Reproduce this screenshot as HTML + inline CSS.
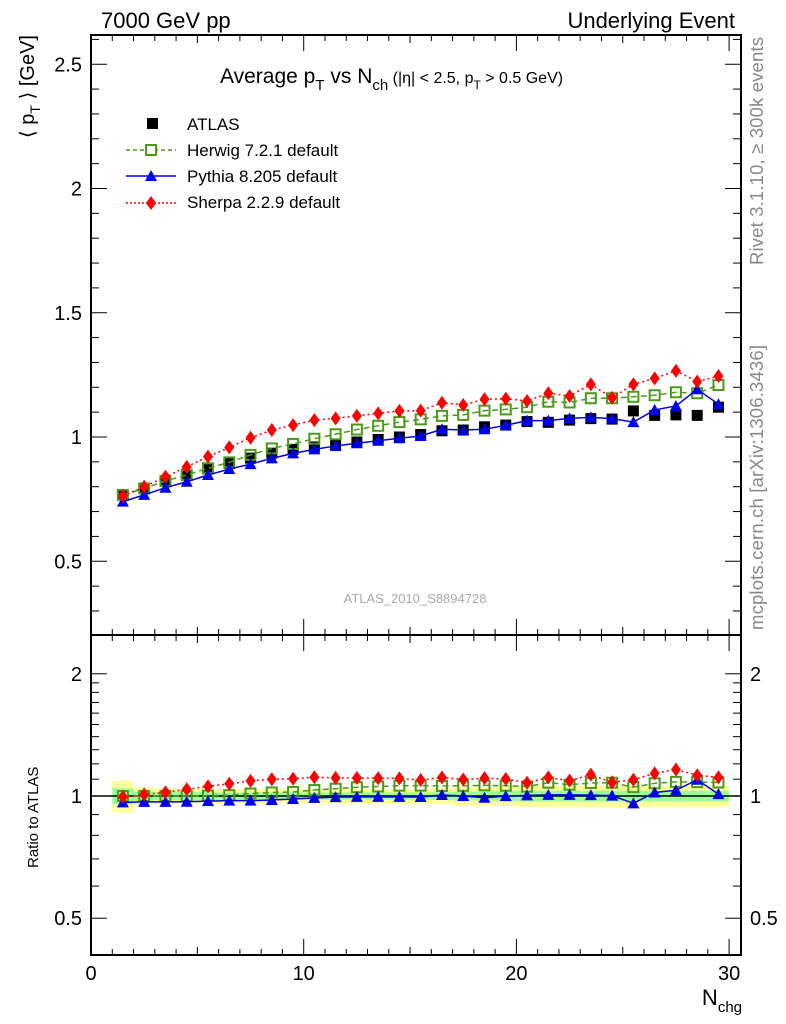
<!DOCTYPE html>
<html><head><meta charset="utf-8"><style>
body{margin:0;background:#fff}
svg{display:block;font-family:"Liberation Sans",sans-serif}
</style></head><body>
<svg id="c" width="786" height="1024" viewBox="0 0 786 1024"></svg>
<script>
const nch=[1.5,2.5,3.5,4.5,5.5,6.5,7.5,8.5,9.5,10.5,11.5,12.5,13.5,14.5,15.5,16.5,17.5,18.5,19.5,20.5,21.5,22.5,23.5,24.5,25.5,26.5,27.5,28.5,29.5];
const atlas=[0.767,0.793,0.823,0.847,0.872,0.894,0.915,0.935,0.950,0.960,0.970,0.980,0.990,1.000,1.010,1.025,1.028,1.041,1.048,1.062,1.059,1.068,1.074,1.072,1.105,1.087,1.089,1.087,1.12];
const herwig=[0.767,0.793,0.823,0.847,0.874,0.898,0.928,0.954,0.972,0.993,1.011,1.030,1.045,1.060,1.071,1.085,1.089,1.106,1.111,1.120,1.142,1.139,1.156,1.156,1.162,1.168,1.180,1.176,1.209];
const pythia=[0.740,0.767,0.796,0.820,0.847,0.871,0.891,0.914,0.934,0.950,0.964,0.975,0.985,0.995,1.004,1.031,1.028,1.031,1.047,1.066,1.066,1.075,1.079,1.074,1.060,1.109,1.125,1.192,1.132];
const sherpa=[0.763,0.800,0.840,0.880,0.921,0.958,0.997,1.028,1.048,1.068,1.075,1.085,1.095,1.105,1.106,1.138,1.129,1.152,1.154,1.145,1.176,1.165,1.212,1.158,1.212,1.236,1.266,1.223,1.245];
const errGreen=[0.045,0.025,0.022,0.022,0.022,0.02,0.02,0.02,0.02,0.02,0.02,0.02,0.02,0.02,0.02,0.022,0.025,0.025,0.028,0.03,0.03,0.03,0.03,0.03,0.03,0.03,0.03,0.03,0.03];
const errYellow=[0.09,0.05,0.045,0.04,0.04,0.04,0.04,0.04,0.04,0.04,0.04,0.04,0.04,0.04,0.04,0.045,0.05,0.05,0.055,0.06,0.06,0.06,0.06,0.06,0.06,0.06,0.06,0.06,0.06];
const mainYTicks=[0.5,1,1.5,2,2.5];
const ratioYTicks=[0.5,1,2];
const xTicks=[0,10,20,30];

const NS="http://www.w3.org/2000/svg";
const svg=document.getElementById('c');
function el(t,a,p){const e=document.createElementNS(NS,t);for(const k in a)e.setAttribute(k,a[k]);(p||svg).appendChild(e);return e;}
const L=91,R=741,MT=35,MB=635,RB=955;
const X=v=>L+(v)*21.27;
const Y=v=>437-(v-1)*248.5;
const YR=r=>796-Math.log10(r)*406;

const bands=el('g',{});


nch.forEach((n,i)=>{
  const x0=X(n-0.5),x1=X(n+0.5);
  const y=el('rect',{x:x0,y:YR(1+errYellow[i]),width:x1-x0,height:YR(1-errYellow[i])-YR(1+errYellow[i]),fill:'#ffff99'},bands);
  
  
  const g=el('rect',{x:x0,y:YR(1+errGreen[i]),width:x1-x0,height:YR(1-errGreen[i])-YR(1+errGreen[i]),fill:'#99ff99'},bands);
  
  
});
el('line',{x1:L,x2:R,y1:YR(1),y2:YR(1),stroke:'#000','stroke-width':1.5});

el('rect',{x:L,y:MT,width:R-L,height:MB-MT,fill:'none',stroke:'#000','stroke-width':2});
el('rect',{x:L,y:MB,width:R-L,height:RB-MB,fill:'none',stroke:'#000','stroke-width':2});

for(let v=0;v<=30;v++){
  const len=v%10===0?16:(v%5===0?8:6);
  [[MT,1],[MB,-1],[MB,1],[RB,-1]].forEach(([y,d])=>el('line',{x1:X(v),x2:X(v),y1:y,y2:y+d*len,stroke:'#000','stroke-width':1}));
}
xTicks.forEach(v=>{const t=el('text',{x:X(v),y:980,'font-size':20,'text-anchor':'middle'});t.textContent=v;

});
for(let k=3;k<=26;k++){const v=k/10;const maj=k%5===0;const y=Y(v);if(y<MT||y>MB)continue;
  el('line',{x1:L,x2:L+(maj?16:8),y1:y,y2:y,stroke:'#000'});el('line',{x1:R,x2:R-(maj?16:8),y1:y,y2:y,stroke:'#000'});}
mainYTicks.forEach(v=>{const t=el('text',{x:82,y:Y(v)+7,'font-size':20,'text-anchor':'end'});t.textContent=v;

});
[0.5,0.6,0.7,0.8,0.9,1,1.1,1.2,1.3,1.4,1.5,1.6,1.7,1.8,1.9,2].forEach(r=>{const maj=[0.5,1,2].includes(r);const y=YR(r);
  el('line',{x1:L,x2:L+(maj?16:8),y1:y,y2:y,stroke:'#000'});el('line',{x1:R,x2:R-(maj?16:8),y1:y,y2:y,stroke:'#000'});});
ratioYTicks.forEach(v=>{const t=el('text',{x:82,y:YR(v)+7,'font-size':20,'text-anchor':'end'});t.textContent=v;


const t2=el('text',{x:750,y:YR(v)+7,'font-size':20});t2.textContent=v;

});

function marker(kind,x,y,g){
  if(kind==='sq')return el('rect',{x:x-5.5,y:y-5.5,width:11,height:11,fill:'#000'},g);
  if(kind==='osq')return el('rect',{x:x-5,y:y-5,width:10,height:10,fill:'none',stroke:'#4a9a1a','stroke-width':2},g);
  if(kind==='tri')return el('polygon',{points:`${x},${y-6} ${x+6},${y+5} ${x-6},${y+5}`,fill:'#0000ee'},g);
  if(kind==='dia')return el('polygon',{points:`${x},${y-7} ${x+5},${y} ${x},${y+7} ${x-5},${y}`,fill:'#ff0000'},g);
}
const ga=el('g',{});


nch.forEach((n,i)=>{const m=marker('sq',X(n),Y(atlas[i]),ga);
  
  });
const series=[
 {name:'herwig',vals:herwig,c:'#4a9a1a',dash:'6,4',m:'osq'},
 {name:'pythia',vals:pythia,c:'#0000ee',dash:'',m:'tri'},
 {name:'sherpa',vals:sherpa,c:'#ff0000',dash:'2,3',m:'dia'}];
series.forEach(s=>{
  const g=el('g',{});
  
  
  const gr=el('g',{});
  
  
  const pts=nch.map((n,i)=>X(n)+','+Y(s.vals[i])).join(' ');
  el('polyline',{points:pts,fill:'none',stroke:s.c,'stroke-width':1.5,'stroke-dasharray':s.dash},g);
  const rp=nch.map((n,i)=>X(n)+','+YR(s.vals[i]/atlas[i])).join(' ');
  el('polyline',{points:rp,fill:'none',stroke:s.c,'stroke-width':1.5,'stroke-dasharray':s.dash},gr);
  nch.forEach((n,i)=>{
    const m=marker(s.m,X(n),Y(s.vals[i]),g);
    
    
    const m2=marker(s.m,X(n),YR(s.vals[i]/atlas[i]),gr);
    
    
  });
});
</script>
<div style="position:absolute;left:0;top:0;width:786px;height:1024px;pointer-events:none">
<svg width="786" height="1024" style="position:absolute;left:0;top:0;font-family:'Liberation Sans',sans-serif">
<text x="101" y="28" font-size="22">7000 GeV pp</text>
<text x="735" y="28" font-size="22" text-anchor="end">Underlying Event</text>
<text x="220" y="83" font-size="21">Average p<tspan font-size="15" dy="7">T</tspan><tspan dy="-7"> vs N</tspan><tspan font-size="15" dy="7">ch</tspan><tspan font-size="16" dy="-7"> (|η| &lt; 2.5, p</tspan><tspan font-size="12" dy="6">T</tspan><tspan font-size="16" dy="-6"> &gt; 0.5 GeV)</tspan></text>
<g>
<rect x="147" y="118" width="11" height="11" fill="#000"/>
<text x="187" y="130" font-size="17">ATLAS</text>
<line x1="126" x2="176" y1="150" y2="150" stroke="#4a9a1a" stroke-width="1.5" stroke-dasharray="4,3"/>
<rect x="146" y="145" width="10" height="10" fill="#fff" stroke="#4a9a1a" stroke-width="2"/>
<text x="187" y="156" font-size="17">Herwig 7.2.1 default</text>
<line x1="126" x2="176" y1="176" y2="176" stroke="#0000ee" stroke-width="1.5"/>
<polygon points="151,170 157,181 145,181" fill="#0000ee"/>
<text x="187" y="182" font-size="17">Pythia 8.205 default</text>
<line x1="126" x2="176" y1="203" y2="203" stroke="#ff0000" stroke-width="1.5" stroke-dasharray="2,2"/>
<polygon points="151,196 156,203 151,210 146,203" fill="#ff0000"/>
<text x="187" y="208" font-size="17">Sherpa 2.2.9 default</text>
</g>
<text x="415" y="603" font-size="13" fill="#aaaaaa" text-anchor="middle">ATLAS_2010_S8894728</text>
<text transform="translate(34,35) rotate(-90)" font-size="20" text-anchor="end">⟨ p<tspan font-size="14" dy="6">T</tspan><tspan dy="-6"> ⟩ [GeV]</tspan></text>
<text transform="translate(38,868) rotate(-90)" font-size="15">Ratio to ATLAS</text>
<text transform="translate(763,265) rotate(-90)" font-size="18.5" fill="#888" textLength="228">Rivet 3.1.10, ≥ 300k events</text>
<text transform="translate(763,630) rotate(-90)" font-size="18.5" fill="#888" textLength="285">mcplots.cern.ch [arXiv:1306.3436]</text>
<text x="742" y="1005" font-size="22" text-anchor="end">N<tspan font-size="15" dy="7">chg</tspan></text>
</svg></div>
</body></html>
